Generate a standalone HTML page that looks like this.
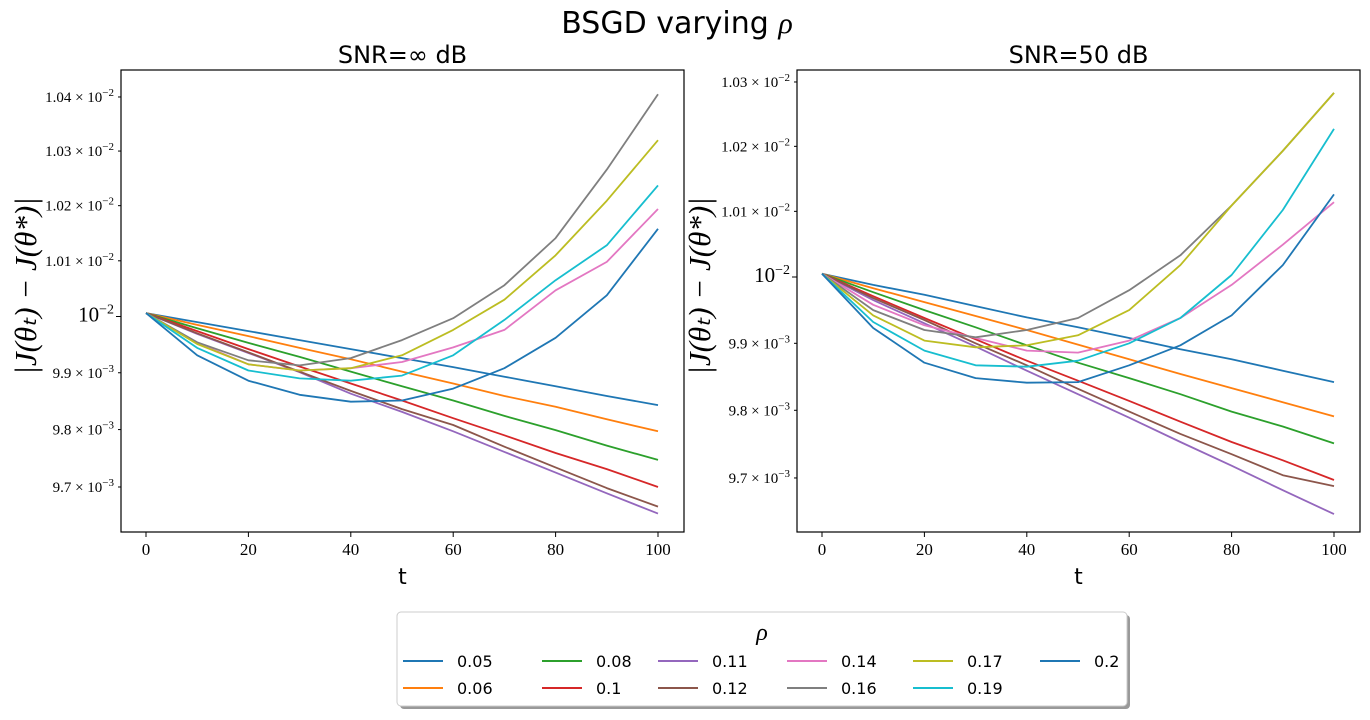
<!DOCTYPE html>
<html><head><meta charset="utf-8"><style>
body{margin:0;background:#fff;width:1370px;height:715px;overflow:hidden}
svg text{font-family:"Liberation Serif",serif}
</style></head><body>
<svg id="fig" width="1370" height="715">
<text x="677" y="33" font-size="30" text-anchor="middle" style="font-family:'DejaVu Sans',sans-serif">BSGD varying <tspan font-family="Liberation Serif" font-style="italic">ρ</tspan></text>
</svg>
<script>
const ts=[0,10,20,30,40,50,60,70,80,90,100];
const rhos=['0.05','0.06','0.08','0.1','0.11','0.12','0.14','0.16','0.17','0.19','0.2'];
const colors=['#1f77b4','#ff7f0e','#2ca02c','#d62728','#9467bd','#8c564b','#e377c2','#7f7f7f','#bcbd22','#17becf','#1f77b4'];
// values in units of 1e-2
const leftSeries=[
[1.0006,0.9990,0.9974,0.9958,0.9942,0.9926,0.9910,0.9893,0.9876,0.9859,0.9843],
[1.0006,0.9985,0.9965,0.9944,0.9924,0.9902,0.9881,0.9859,0.9840,0.9818,0.9797],
[1.0006,0.9979,0.9953,0.9928,0.9902,0.9876,0.9851,0.9824,0.9799,0.9772,0.9747],
[1.0006,0.9974,0.9942,0.9911,0.9881,0.9851,0.9820,0.9790,0.9759,0.9731,0.9700],
[1.0006,0.9969,0.9935,0.9901,0.9863,0.9831,0.9797,0.9761,0.9725,0.9689,0.9654],
[1.0006,0.9970,0.9936,0.9902,0.9868,0.9836,0.9808,0.9770,0.9734,0.9698,0.9666],
[1.0006,0.9953,0.9915,0.9904,0.9908,0.9919,0.9945,0.9976,1.0047,1.0098,1.0194],
[1.0006,0.9954,0.9922,0.9913,0.9926,0.9958,0.9997,1.0056,1.0141,1.0266,1.0405],
[1.0006,0.9951,0.9915,0.9904,0.9908,0.9931,0.9976,1.0030,1.0110,1.0209,1.0320],
[1.0006,0.9944,0.9904,0.9890,0.9886,0.9895,0.9931,0.9994,1.0065,1.0128,1.0237],
[1.0006,0.9931,0.9886,0.9861,0.9849,0.9851,0.9872,0.9908,0.9962,1.0038,1.0158]];
const rightSeries=[
[1.0005,0.9988,0.9973,0.9956,0.9939,0.9924,0.9908,0.9891,0.9876,0.9859,0.9842],
[1.0005,0.9983,0.9962,0.9941,0.9920,0.9898,0.9876,0.9854,0.9833,0.9812,0.9791],
[1.0005,0.9977,0.9950,0.9924,0.9897,0.9871,0.9848,0.9824,0.9798,0.9776,0.9751],
[1.0005,0.9971,0.9938,0.9906,0.9874,0.9844,0.9814,0.9783,0.9753,0.9726,0.9697],
[1.0005,0.9965,0.9930,0.9895,0.9859,0.9824,0.9789,0.9753,0.9718,0.9682,0.9647],
[1.0005,0.9968,0.9935,0.9900,0.9867,0.9832,0.9798,0.9765,0.9735,0.9704,0.9688],
[1.0005,0.9958,0.9927,0.9908,0.9889,0.9886,0.9904,0.9938,0.9988,1.0049,1.0114],
[1.0005,0.9950,0.9920,0.9909,0.9920,0.9938,0.9980,1.0033,1.0109,1.0193,1.0283],
[1.0005,0.9942,0.9904,0.9894,0.9897,0.9912,0.9950,1.0018,1.0109,1.0193,1.0283],
[1.0005,0.9932,0.9889,0.9867,0.9865,0.9874,0.9900,0.9938,1.0003,1.0102,1.0227],
[1.0005,0.9923,0.9871,0.9848,0.9841,0.9842,0.9867,0.9897,0.9942,1.0018,1.0126]];
const xTicks=[0,20,40,60,80,100];
const leftYTicks=[1.04,1.03,1.02,1.01,1.00,0.99,0.98,0.97];
const rightYTicks=[1.03,1.02,1.01,1.00,0.99,0.98,0.97];

const NS='http://www.w3.org/2000/svg';
const svg=document.getElementById('fig');
function mk(tag,attrs,parent){const e=document.createElementNS(NS,tag);for(const k in attrs)e.setAttribute(k,attrs[k]);(parent||svg).appendChild(e);return e;}
function tickLabel(v){
  if(Math.abs(v-1)<1e-9) return {big:true,m:'',e:'−2'};
  if(v>1) return {m:v.toFixed(2)+' × ',e:'−2'};
  return {m:(v*10).toFixed(1)+' × ',e:'−3'};
}
function panel(p){
  const g=mk('g',{});
  
  
  const X=t=>p.x0+(t-0)*(p.x1-p.x0)/100;
  const Y=v=>p.y0-p.K*Math.log10(v);
  const cp=mk('clipPath',{id:'c'+p.name},g);
  mk('rect',{x:p.L,y:p.T,width:p.R-p.L,height:p.B-p.T},cp);
  const sg=mk('g',{'clip-path':'url(#c'+p.name+')'},g);
  p.series.forEach((s,i)=>{
    const pts=s.map((v,j)=>X(ts[j]).toFixed(1)+','+Y(v).toFixed(1)).join(' ');
    const pl=mk('polyline',{points:pts,fill:'none',stroke:colors[i],'stroke-width':1.8,'stroke-linejoin':'round'},sg);
    
    
  });
  const fr=mk('rect',{x:p.L,y:p.T,width:p.R-p.L,height:p.B-p.T,fill:'none',stroke:'#000','stroke-width':1.2},g);
  
  
  xTicks.forEach(t=>{
    mk('line',{x1:X(t),x2:X(t),y1:p.B,y2:p.B+5,stroke:'#000'},g);
    const tx=mk('text',{x:X(t),y:p.B+23,'font-size':17,'text-anchor':'middle'},g);
    tx.textContent=t;
    
    
  });
  p.yticks.forEach(v=>{
    const y=Y(v);
    mk('line',{x1:p.L-(Math.abs(v-1)<1e-9?5:3),x2:p.L,y1:y,y2:y,stroke:'#000'},g);
    const L=tickLabel(v);
    const tx=mk('text',{x:p.L-7,y:y+5,'font-size':L.big?21:15,'text-anchor':'end'},g);
    
    
    const a=document.createElementNS(NS,'tspan');a.textContent=(L.big?'10':L.m+'10');tx.appendChild(a);
    const b=document.createElementNS(NS,'tspan');b.setAttribute('dy',L.big?-8:-6);b.setAttribute('font-size',L.big?14:11);b.textContent=L.e;tx.appendChild(b);
  });
  const xl=mk('text',{x:(p.L+p.R)/2,y:p.B+52,'font-size':22,'text-anchor':'middle',style:"font-family:'DejaVu Sans',sans-serif"},g);
  xl.textContent='t';
  
  
  const ti=mk('text',{x:(p.L+p.R)/2,y:p.T-7,'font-size':24,'text-anchor':'middle',style:"font-family:'DejaVu Sans',sans-serif"},g);
  ti.textContent=p.title;
  
  
  const yl=mk('text',{x:0,y:0,'font-size':31,'font-style':'italic','text-anchor':'middle',transform:'translate('+p.ylx+','+((p.T+p.B)/2-15)+') rotate(-90)'},g);
  yl.textContent='|J(θₜ) − J(θ*)|';
  
  
}
panel({name:'left-panel',L:121,R:684,T:70,B:532,x0:146,x1:658,y0:316.5,K:12888,series:leftSeries,yticks:leftYTicks,title:'SNR=∞ dB',ylx:36});
panel({name:'right-panel',L:797,R:1360,T:70,B:532,x0:822,x1:1334,y0:277,K:15192,series:rightSeries,yticks:rightYTicks,title:'SNR=50 dB',ylx:710});

const lg=mk('g',{});


mk('rect',{x:400,y:615,width:730,height:94,rx:4,fill:'#999'},lg);
mk('rect',{x:397,y:612,width:730,height:94,rx:4,fill:'#fff',stroke:'#ccc'},lg);
const lt=mk('text',{x:762,y:640,'font-size':24,'font-style':'italic','text-anchor':'middle'},lg);
lt.textContent='ρ';


const colX=[403,542,658,787,913,1040];
rhos.forEach((r,i)=>{
  const c=Math.floor(i/2),row=i%2;
  const x=colX[c],y=661+row*27;
  const e=mk('g',{},lg);
  
  
  mk('line',{x1:x,x2:x+40,y1:y,y2:y,stroke:colors[i],'stroke-width':2},e);
  const t=mk('text',{x:x+54,y:y+6,'font-size':16,style:"font-family:'DejaVu Sans',sans-serif"},e);
  t.textContent=r;
});
</script>
</body></html>
